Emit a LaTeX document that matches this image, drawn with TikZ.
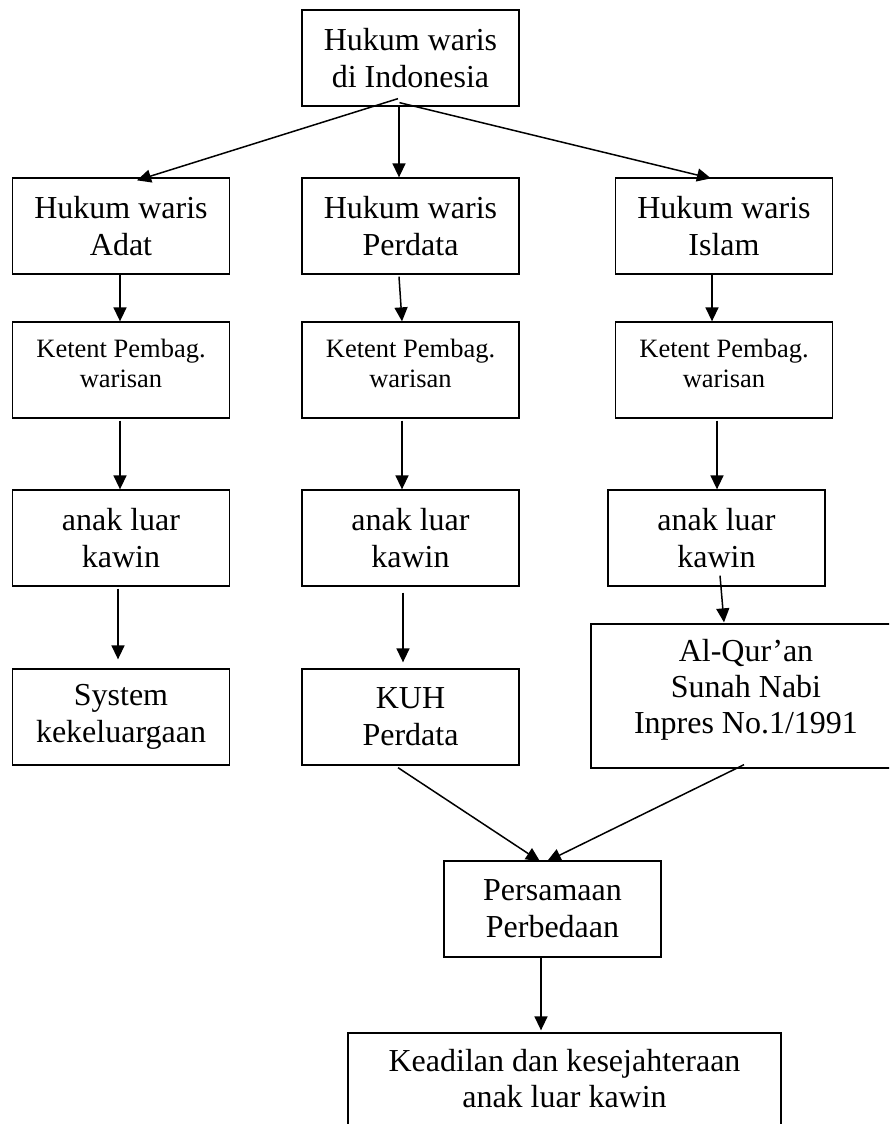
\documentclass[tikz,border=0pt]{standalone}
\usepackage{fontspec}
\setmainfont{Liberation Serif}
\usetikzlibrary{arrows.meta,calc}
\begin{document}
\begin{tikzpicture}[x=1pt,y=-1pt,
  box/.style={draw, line width=1.3pt, minimum width=217pt, minimum height=96pt, inner sep=0pt, align=center, font=\fontsize{32}{37}\selectfont},
  sm/.style={align=center, inner sep=0pt, font=\fontsize{26.5}{30}\selectfont},
  big/.style={align=center, inner sep=0pt, font=\fontsize{32}{36}\selectfont},
  arr/.style={-{Triangle[length=14pt,width=13pt]}, line width=1.5pt}]
\useasboundingbox (0,0) rectangle (889,1124);
\clip (0,0) rectangle (889,1124);
% boxes
\node[box] (top) at (410.5,58) {Hukum waris\\di Indonesia};
\node[box] (adat) at (121,226) {Hukum waris\\Adat};
\node[box] (perd) at (410.5,226) {Hukum waris\\Perdata};
\node[box] (isl) at (724,226) {Hukum waris\\Islam};
\node[box] (k1) at (121,370) {};
\node[box] (k2) at (410.5,370) {};
\node[box] (k3) at (724,370) {};
\node[sm] (k1t) at (121,363) {Ketent Pembag.\\warisan};
\node[sm] (k2t) at (410.5,363) {Ketent Pembag.\\warisan};
\node[sm] (k3t) at (724,363) {Ketent Pembag.\\warisan};
\node[box] (a1) at (121,538) {anak luar\\kawin};
\node[box] (a2) at (410.5,538) {anak luar\\kawin};
\node[box] (a3) at (716.5,538) {anak luar\\kawin};
\node[box] (s1) at (121,717) {System\\kekeluargaan};
\node[box] (s2) at (410.5,717) {KUH\\Perdata};
\node[box, minimum width=310pt, minimum height=144pt] (s3) at (746,696) {};
\node[big] (s3t) at (746,690) {Al-Qur’an\\Sunah Nabi\\Inpres No.1/1991};
\node[box] (ps) at (552.5,909) {Persamaan\\Perbedaan};
\node[box, minimum width=433pt, minimum height=200pt] (kd) at (564.5,1133) {};
\node[big] (kdt) at (564.5,1079) {Keadilan dan kesejahteraan\\anak luar kawin};
% connectors
\draw[arr] ($(top.south)+(-12.5,-8)$) -- ($(adat.north)+(16,3)$);
\draw[arr] ($(top.south)+(-11.5,0)$) -- ($(perd.north)+(-11.5,0)$);
\draw[arr] ($(top.south)+(-11,-4)$) -- ($(isl.north)+(-13,1)$);
\draw[arr] ($(adat.south)+(-1,0)$) -- ($(k1.north)+(-1,0)$);
\draw[arr] ($(perd.south)+(-11.5,2)$) -- ($(k2.north)+(-8.5,0)$);
\draw[arr] ($(isl.south)+(-12,0)$) -- ($(k3.north)+(-12,0)$);
\draw[arr] ($(k1.south)+(-1,2)$) -- ($(a1.north)+(-1,0)$);
\draw[arr] ($(k2.south)+(-8.5,2)$) -- ($(a2.north)+(-8.5,0)$);
\draw[arr] ($(k3.south)+(-7,2)$) -- ($(a3.north)+(0.5,0)$);
\draw[arr] ($(a1.south)+(-3,2)$) -- ($(s1.north)+(-3,-9)$);
\draw[arr] ($(a2.south)+(-7.5,6)$) -- ($(s2.north)+(-7.5,-6)$);
\draw[arr] ($(a3.south)+(3.5,-11)$) -- ($(s3.north)+(-22,-1)$);
\draw[arr] ($(s2.south)+(-12.5,2)$) -- ($(ps.north)+(-12.5,1)$);
\draw[arr] ($(s3.south)+(-2,-4)$) -- ($(ps.north)+(-5.5,1)$);
\draw[arr] ($(ps.south)+(-11.5,0)$) -- ($(kd.north)+(-23.5,-2)$);
\end{tikzpicture}
\end{document}
